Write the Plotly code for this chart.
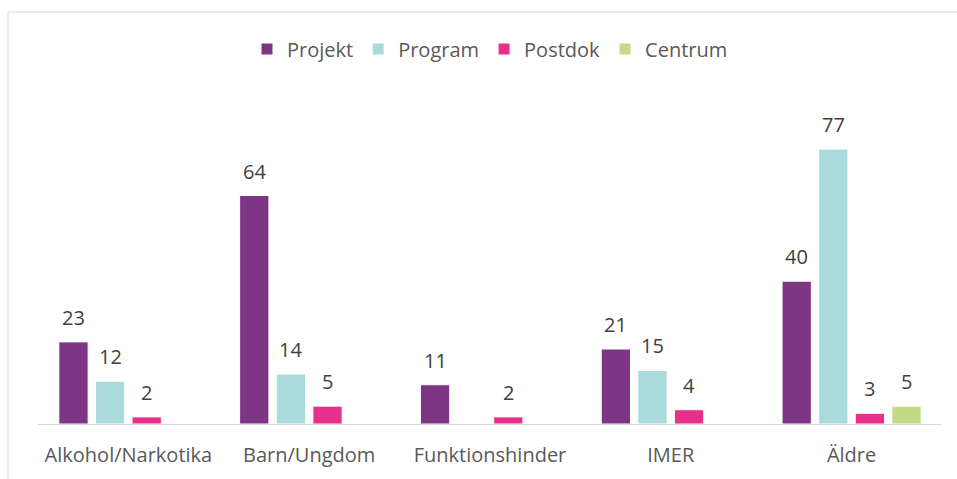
import plotly.graph_objects as go

categories = ["Alkohol/Narkotika", "Barn/Ungdom", "Funktionshinder", "IMER", "Äldre"]
projekt = [23, 64, 11, 21, 40]
program = [12, 14, None, 15, 77]
postdok = [2, 5, 2, 4, 3]
centrum = [None, None, None, None, 5]

series = [
    ("Projekt", projekt, "#7E3585"),
    ("Program", program, "#A9DBDC"),
    ("Postdok", postdok, "#E6308A"),
    ("Centrum", centrum, "#C2D986"),
]

W, H = 957, 479
ml, mr, mt, mb = 38, 15, 100, 55
pw, ph = W - ml - mr, H - mt - mb
bargap = 0.19
slot_px = pw / len(categories) * (1 - bargap) / len(series)
FONT = "Open Sans"

fig = go.Figure()
annotations = []
for i, (name, vals, col) in enumerate(series):
    fig.add_trace(go.Bar(
        name=name, x=categories, y=vals,
        marker=dict(color=col, line=dict(color="white", width=1)),
    ))
    for c, v in zip(categories, vals):
        if v is None:
            continue
        annotations.append(dict(
            x=c, y=v, xref="x", yref="y", text=str(v), showarrow=False,
            xanchor="center", yanchor="bottom",
            xshift=(i - (len(series) - 1) / 2) * slot_px, yshift=9,
            font=dict(size=20, color="#404040", family=FONT),
        ))

fig.update_layout(
    width=W, height=H,
    margin=dict(l=ml, r=mr, t=mt, b=mb),
    paper_bgcolor="white", plot_bgcolor="white",
    barmode="group", bargap=bargap, bargroupgap=0.2,
    font=dict(family=FONT, size=20, color="#595959"),
    showlegend=True,
    legend=dict(orientation="h", x=0.5, xanchor="center", y=(H - mb - 49) / ph, yanchor="middle",
                font=dict(size=20, color="#595959"), itemwidth=30,
                traceorder="normal"),
    xaxis=dict(showline=True, linecolor="#D9D9D9", linewidth=1, showgrid=False,
               ticks="", tickfont=dict(size=20, color="#595959"), ticklabelstandoff=13),
    yaxis=dict(range=[0, 90.75], visible=False, showgrid=False),
    annotations=annotations,
    shapes=[dict(type="rect", xref="paper", yref="paper",
                 x0=(8 - ml) / pw, x1=(W + 10 - ml) / pw,
                 y0=(H - mb - (H + 10)) / ph, y1=(H - mb - 12) / ph,
                 line=dict(color="#D9D9D9", width=1), fillcolor="rgba(0,0,0,0)")],
)

fig.write_html("out.html", config={"displayModeBar": False},
               post_script="document.body.style.margin='0';")
